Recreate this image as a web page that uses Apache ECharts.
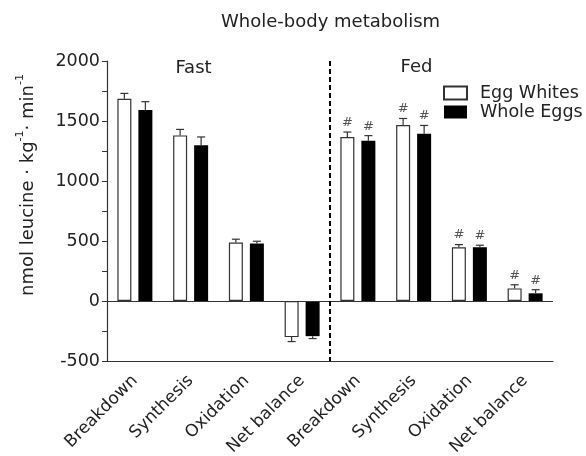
<!DOCTYPE html>
<html>
<head>
<meta charset="utf-8">
<script src="https://cdn.jsdelivr.net/npm/echarts@6/dist/echarts.min.js"></script>
<style>html,body{margin:0;padding:0;background:#fff}#c{width:586px;height:456px}</style>
</head>
<body>
<div id="c"></div>
<script>
const categories = ['Breakdown','Synthesis','Oxidation','Net balance','Breakdown','Synthesis','Oxidation','Net balance'];
const eggWhites = [1685, 1380, 487, -301, 1367, 1466, 448, 105];
const eggWhitesErr = [45, 50, 28, 37, 41, 55, 22, 30];
const wholeEggs = [1591, 1297, 479, -293, 1336, 1394, 448, 64];
const wholeEggsErr = [70, 70, 19, 20, 42, 69, 17, 30];
const sigMark = [false, false, false, false, true, true, true, true];
const yTicks = [-500, 0, 500, 1000, 1500, 2000];

const FONT = 'DejaVu Sans';
const TXT = '#222';
const OFF = 10.5;

function errSeries(vals, errs, dx, name) {
  return {
    type: 'custom', name: name + ' err', silent: true, z: 5,
    data: vals.map((v, i) => [i, v, errs[i], sigMark[i] ? 1 : 0]),
    renderItem: function (params, api) {
      const i = api.value(0), v = api.value(1), e = api.value(2), s = api.value(3);
      const p0 = api.coord([i, v]);
      const p1 = api.coord([i, v >= 0 ? v + e : v - e]);
      const x = p0[0] + dx;
      const ch = [
        {type: 'line', shape: {x1: x, y1: p0[1], x2: x, y2: p1[1]}, style: {stroke: '#333', lineWidth: 1.2}},
        {type: 'line', shape: {x1: x - 4, y1: p1[1], x2: x + 4, y2: p1[1]}, style: {stroke: '#333', lineWidth: 1.2}}
      ];
      if (s) {
        ch.push({type: 'text', style: {text: '#', x: x, y: p1[1] - 3, align: 'center', verticalAlign: 'bottom', fontSize: 13, fontFamily: FONT, fill: '#555'}});
      }
      return {type: 'group', children: ch};
    }
  };
}

const chart = echarts.init(document.getElementById('c'));
chart.setOption({
  animation: false,
  title: {text: 'Whole-body metabolism', left: 216, top: 8, textStyle: {fontFamily: FONT, fontSize: 18, fontWeight: 'normal', color: TXT}},
  legend: {
    orient: 'vertical', left: 438, top: 79, itemWidth: 23, itemHeight: 13, itemGap: 1,
    textStyle: {fontFamily: FONT, fontSize: 17.5, color: TXT, padding: [0, 0, 0, 8]},
    data: [{name: 'Egg Whites', icon: 'rect'}, {name: 'Whole Eggs', icon: 'rect'}]
  },
  grid: {left: 107, right: 33, top: 61, bottom: 95, containLabel: false, outerBoundsMode: 'none'},
  xAxis: {
    type: 'category', data: categories,
    axisLine: {onZero: false, lineStyle: {color: '#333', width: 1.2}},
    axisTick: {alignWithLabel: true, length: 6, lineStyle: {color: '#333'}},
    axisLabel: {rotate: 45, fontFamily: FONT, fontSize: 17, color: TXT, margin: 17, interval: 0}
  },
  yAxis: {
    type: 'value', min: -500, max: 2000, interval: 500,
    name: '{n|nmol leucine · kg}{s|-1}{n|· min}{s|-1}',
    nameLocation: 'middle', nameGap: 70, nameRotate: 90,
    nameTextStyle: {
      fontFamily: FONT, fontSize: 18, color: TXT, padding: [0, 0, 0, 52],
      rich: {
        n: {fontFamily: FONT, fontSize: 18, color: TXT, lineHeight: 22, verticalAlign: 'bottom'},
        s: {fontFamily: FONT, fontSize: 11, color: TXT, lineHeight: 13, verticalAlign: 'top'}
      }
    },
    axisLine: {show: true, lineStyle: {color: '#333', width: 1.2}},
    axisTick: {show: true, length: 5, lineStyle: {color: '#333'}},
    minorTick: {show: true, splitNumber: 2, length: 5, lineStyle: {color: '#333'}},
    splitLine: {show: false},
    axisLabel: {fontFamily: FONT, fontSize: 17.5, color: TXT, margin: 7,
      formatter: v => yTicks.includes(v) ? String(v) : ''}
  },
  series: [
    {
      name: 'Egg Whites', type: 'bar', data: eggWhites, barWidth: 14, barGap: '50%',
      itemStyle: {color: '#fff', borderColor: '#333', borderWidth: 1.2},
      markLine: {
        silent: true, symbol: 'none', label: {show: false},
        lineStyle: {color: '#333', width: 1.2, type: 'solid'},
        data: [{yAxis: 0}]
      }
    },
    {name: 'Whole Eggs', type: 'bar', data: wholeEggs, barWidth: 14, itemStyle: {color: '#000'}},
    errSeries(eggWhites, eggWhitesErr, -OFF, 'Egg Whites'),
    errSeries(wholeEggs, wholeEggsErr, OFF, 'Whole Eggs'),
    {
      type: 'custom', silent: true, z: 6,
      data: [[3, 4]],
      renderItem: function (params, api) {
        const a = api.coord([api.value(0), 2000]);
        const b = api.coord([api.value(1), -500]);
        const x = (a[0] + b[0]) / 2;
        return {type: 'group', children: [
          {type: 'line', shape: {x1: x, y1: a[1], x2: x, y2: b[1]}, style: {stroke: '#000', lineWidth: 2, lineDash: [5, 3]}},
          {type: 'text', style: {text: 'Fast', x: (api.coord([0, 0])[0] + api.coord([3, 0])[0]) / 2 - 25, y: a[1] + 7, align: 'center', verticalAlign: 'middle', fontSize: 18, fontFamily: FONT, fill: TXT}},
          {type: 'text', style: {text: 'Fed', x: (api.coord([4, 0])[0] + api.coord([7, 0])[0]) / 2 - 25, y: a[1] + 6, align: 'center', verticalAlign: 'middle', fontSize: 18, fontFamily: FONT, fill: TXT}}
        ]};
      }
    }
  ]
});
</script>
</body>
</html>
